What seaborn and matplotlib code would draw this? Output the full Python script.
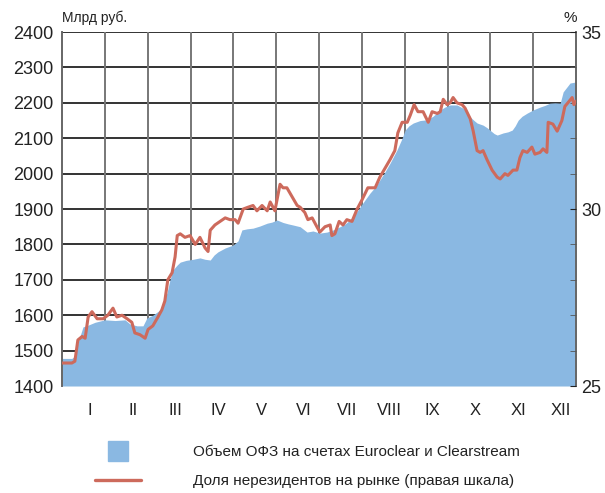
import matplotlib
matplotlib.use('Agg')
import matplotlib.pyplot as plt
from matplotlib.lines import Line2D
from matplotlib.ticker import MultipleLocator
import seaborn as sns

# months (roman numerals), x positions are fractions of the year in months
months = ['I', 'II', 'III', 'IV', 'V', 'VI', 'VII', 'VIII', 'IX', 'X', 'XI', 'XII']

# volume of OFZ at Euroclear & Clearstream, bn rub (left scale)
vol_t = [0.00, 0.23, 0.30, 0.37, 0.49, 0.61, 0.77, 1.00, 1.24, 1.47, 1.59, 1.75, 1.89,
         1.98, 2.12, 2.29, 2.38, 2.45, 2.52, 2.59, 2.69, 2.76, 2.90, 3.06, 3.22, 3.34,
         3.46, 3.55, 3.64, 3.81, 3.99, 4.11, 4.20, 4.32, 4.46, 4.62, 4.79, 4.90, 5.02,
         5.16, 5.28, 5.39, 5.56, 5.72, 5.86, 6.02, 6.19, 6.33, 6.49, 6.61, 6.72, 6.84,
         6.96, 7.07, 7.19, 7.31, 7.42, 7.54, 7.66, 7.82, 7.94, 8.01, 8.10, 8.20, 8.36,
         8.52, 8.66, 8.83, 8.94, 9.06, 9.22, 9.36, 9.46, 9.53, 9.62, 9.69, 9.83, 9.92,
         9.99, 10.09, 10.16, 10.30, 10.41, 10.51, 10.58, 10.65, 10.74, 10.86, 11.00,
         11.16, 11.28, 11.39, 11.51, 11.63, 11.70, 11.79, 11.86, 12.00]
vol = [1478, 1478, 1485, 1522, 1567, 1572, 1580, 1587, 1585, 1587, 1575, 1570, 1570,
       1592, 1600, 1615, 1640, 1663, 1700, 1728, 1742, 1750, 1755, 1758, 1762, 1758,
       1756, 1770, 1779, 1790, 1798, 1810, 1841, 1844, 1846, 1852, 1860, 1863, 1869,
       1862, 1858, 1855, 1850, 1835, 1838, 1832, 1835, 1841, 1850, 1858, 1869, 1885,
       1906, 1925, 1945, 1962, 1982, 2005, 2030, 2067, 2100, 2123, 2135, 2143, 2150,
       2152, 2162, 2180, 2188, 2194, 2194, 2185, 2172, 2160, 2150, 2143, 2137, 2130,
       2123, 2113, 2109, 2115, 2118, 2123, 2135, 2151, 2162, 2171, 2180,
       2188, 2193, 2199, 2200, 2199, 2231, 2245, 2256, 2259]

# share of non-residents on the market, % (right scale)
share_t = [0.00, 0.23, 0.30, 0.37, 0.47, 0.54, 0.61, 0.70, 0.82, 0.96, 1.07, 1.19, 1.28,
           1.40, 1.52, 1.63, 1.70, 1.82, 1.94, 2.01, 2.12, 2.24, 2.33, 2.40, 2.47, 2.57,
           2.64, 2.69, 2.76, 2.87, 2.99, 3.11, 3.22, 3.34, 3.41, 3.46, 3.57, 3.69, 3.81,
           3.92, 4.04, 4.11, 4.23, 4.34, 4.46, 4.55, 4.67, 4.79, 4.86, 4.97, 5.09, 5.16,
           5.25, 5.37, 5.49, 5.56, 5.67, 5.74, 5.84, 5.95, 6.02, 6.14, 6.26, 6.30, 6.37,
           6.47, 6.56, 6.65, 6.77, 6.89, 7.00, 7.14, 7.31, 7.42, 7.54, 7.66, 7.77, 7.84,
           7.94, 8.06, 8.13, 8.22, 8.31, 8.43, 8.55, 8.64, 8.76, 8.83, 8.90, 8.99, 9.06,
           9.13, 9.22, 9.34, 9.41, 9.53, 9.60, 9.69, 9.76, 9.83, 9.92, 10.04, 10.16,
           10.23, 10.34, 10.41, 10.53, 10.62, 10.69, 10.76, 10.86, 10.97, 11.04, 11.16,
           11.23, 11.32, 11.35, 11.46, 11.56, 11.67, 11.74, 11.81, 11.91, 11.95, 12.00]
share = [25.65, 25.65, 25.7, 26.3, 26.4, 26.35, 26.95, 27.1, 26.9, 26.9, 27.0, 27.2, 26.95,
         27.0, 26.9, 26.8, 26.5, 26.45, 26.35, 26.6, 26.7, 26.95, 27.15, 27.4, 28.0, 28.2,
         28.65, 29.25, 29.3, 29.2, 29.25, 29.0, 29.2, 28.9, 28.8, 29.4, 29.55, 29.65, 29.75,
         29.7, 29.7, 29.6, 30.0, 30.05, 30.1, 29.95, 30.1, 29.95, 30.2, 29.95, 30.7, 30.6,
         30.6, 30.35, 30.1, 30.05, 29.9, 29.7, 29.75, 29.5, 29.35, 29.5, 29.55, 29.25, 29.3,
         29.65, 29.55, 29.7, 29.65, 30.0, 30.25, 30.6, 30.6, 30.9, 31.15, 31.4, 31.65, 32.15,
         32.45, 32.45, 32.65, 32.95, 32.75, 32.75, 32.45, 32.75, 32.7, 32.75, 33.1, 32.95, 33.0,
         33.15, 33.0, 32.95, 32.85, 32.55, 32.2, 31.65, 31.6, 31.65, 31.4, 31.1, 30.9,
         30.85, 31.0, 30.95, 31.1, 31.1, 31.45, 31.65, 31.6, 31.75, 31.55, 31.6,
         31.7, 31.6, 32.45, 32.4, 32.2, 32.5, 32.9, 33.0, 33.15, 32.95, 33.05]

legend_labels = ['Объем ОФЗ на счетах Euroclear и Clearstream',
                 'Доля нерезидентов на рынке (правая шкала)']

BLUE = '#8ab8e2'
RED = '#cd6a5c'

sns.set_style('white')
plt.rcParams['font.family'] = ['Liberation Sans', 'DejaVu Sans']

fig = plt.figure(figsize=(6.05, 4.93), dpi=100)
ax = fig.add_axes([0.1025, 0.217, 0.8496, 0.718])

# grid
for v in range(1500, 2401, 100):
    ax.axhline(v, color='#333333', lw=1.4, zorder=1)
for m in range(1, 12):
    ax.axvline(m, color='#777777', lw=1.4, zorder=1)

ax.fill_between(vol_t, 1400, vol, color=BLUE, lw=0, zorder=2)
ax.set_xlim(0, 12)
ax.set_ylim(1400, 2400)
ax.set_yticks(range(1400, 2401, 100))
ax.set_xticks([i + 0.65 for i in range(12)])
ax.set_xticklabels(months)
ax.tick_params(axis='y', length=0, labelsize=13, pad=6, colors='#222222')
ax.tick_params(axis='x', length=0, labelsize=12, pad=12, colors='#222222')
for s in ['top', 'bottom']:
    ax.spines[s].set_visible(False)
for s in ['left', 'right']:
    ax.spines[s].set_color('#666666')
    ax.spines[s].set_linewidth(1.4)
    ax.spines[s].set_zorder(3)

ax2 = ax.twinx()
sns.lineplot(x=share_t, y=share, ax=ax2, color=RED, lw=2.2, sort=False)
ax2.set_ylim(25, 35)
ax2.set_yticks([25, 30, 35])
ax2.yaxis.set_minor_locator(MultipleLocator(1))
ax2.tick_params(axis='y', which='both', direction='in', length=4, color='#555555')
ax2.tick_params(axis='y', which='major', labelsize=13, pad=4, colors='#222222')
for s in ax2.spines.values():
    s.set_visible(False)
ax2.set_ylabel('')
ax2.set_xlim(0, 12)

fig.text(62 / 605, 1 - 18 / 493, 'Млрд руб.', fontsize=10, ha='left', va='center', color='#222222')
fig.text(570 / 605, 1 - 18 / 493, '%', fontsize=11, ha='center', va='center', color='#222222')

handles = [Line2D([], [], marker='s', ms=14, color=BLUE, ls=''),
           Line2D([], [], color=RED, lw=2.4)]
fig.legend(handles, legend_labels, loc='upper left', bbox_to_anchor=(95 / 605, 1 - 445 / 493),
           frameon=False, fontsize=11, handlelength=3.0, handletextpad=3.4,
           labelspacing=1.0, borderaxespad=0, borderpad=0, labelcolor='#222222')

fig.savefig('out.png', dpi=100)
